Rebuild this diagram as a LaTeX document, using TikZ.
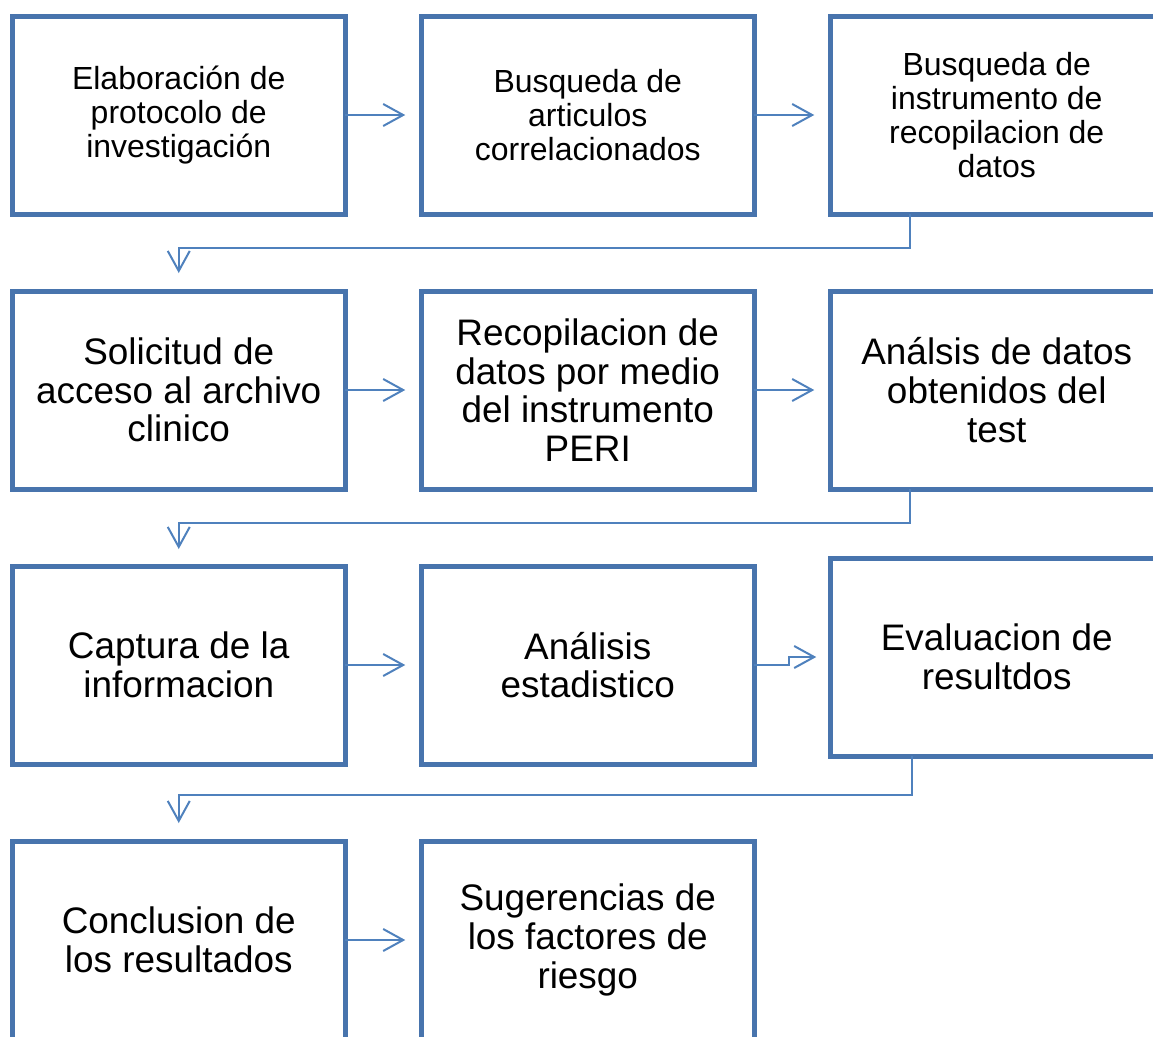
\documentclass[tikz,border=0pt]{standalone}
\usepackage{fontspec}
\setmainfont{Liberation Sans}
\usetikzlibrary{arrows.meta,positioning,calc}
\definecolor{boxblue}{RGB}{72,116,173}
\definecolor{linkblue}{RGB}{79,129,189}

\begin{document}
\begin{tikzpicture}[
            node distance=1.54cm and 1.52cm,
            box/.style={draw=boxblue, line width=1mm, fill=white, align=center, outer sep=0pt,
                minimum height=3.96cm, minimum width=6.66cm, inner sep=1mm,
                font=\fontsize{21}{22}\selectfont},
            small/.style={font=\fontsize{18.2}{19.2}\selectfont},
            arrow/.style={draw=linkblue, line width=0.4mm,
                -{Straight Barb[length=4mm,width=4.4mm,line width=0.4mm]}}
        ]
            \useasboundingbox (0,0) rectangle (23.06,-20.72);

            % first row
            \node[box, small] (elab) at (3.575,-2.30) {Elaboración de\\protocolo de\\investigación};
            \node[box, small, right=of elab] (busq) {Busqueda de\\articulos\\correlacionados};
            \node[box, small, right=of busq] (instr) {Busqueda de\\instrumento de\\recopilacion de\\datos};

            % second row
            \node[box, below=of elab] (solic) {Solicitud de\\acceso al archivo\\clinico};
            \node[box, right=of solic] (recop) {Recopilacion de\\datos por medio\\del instrumento\\PERI};
            \node[box, right=of recop] (anal) {Análsis de datos\\obtenidos del\\test};

            % third row
            \node[box, below=of solic] (capt) {Captura de la\\informacion};
            \node[box, right=of capt] (estad) {Análisis\\estadistico};
            \node[box, right=of estad, yshift=1.6mm] (evalu) {Evaluacion de\\resultdos};

            % last row
            \node[box, below=of capt] (concl) {Conclusion de\\los resultados};
            \node[box, right=of concl] (suger) {Sugerencias de\\los factores de\\riesgo};

            \draw[arrow, shorten >=3.2mm] (elab) -- (busq);
            \draw[arrow, shorten >=3.2mm] (busq) -- (instr);
            \draw[arrow] ([xshift=1.6cm]instr.south west) -- ++(0,-0.68) -| ([yshift=3.6mm]solic.north);

            \draw[arrow, shorten >=3.2mm] (solic) -- (recop);
            \draw[arrow, shorten >=3.2mm] (recop) -- (anal);
            \draw[arrow] ([xshift=1.6cm]anal.south west) -- ++(0,-0.68) -| ([yshift=3.4mm]capt.north);

            \draw[arrow, shorten >=3.2mm] (capt) -- (estad);
            \draw[arrow, shorten >=2.8mm] (estad.east) -- ++(0.7,0) |- (evalu.west);
            \draw[arrow] ([xshift=1.64cm]evalu.south west) -- ++(0,-0.78) -| ([yshift=3.6mm]concl.north);

            \draw[arrow, shorten >=3.2mm] (concl) -- (suger);
        \end{tikzpicture}
\end{document}
